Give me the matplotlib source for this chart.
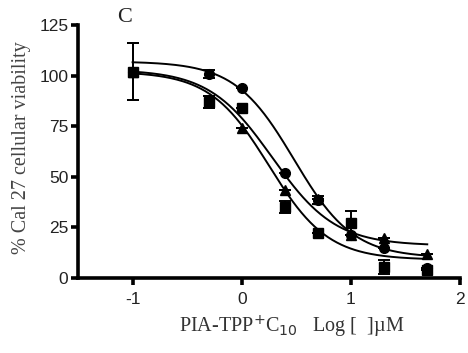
import matplotlib.pyplot as plt
import numpy as np

plt.rcParams['axes.unicode_minus'] = False

log_conc = [-1, -0.3, 0, 0.4, 0.7, 1, 1.3, 1.7]

circle_vals = [102, 101, 94, 52, 38.5, 21, 15, 5]
circle_err = [14, 2, 0, 0, 2, 0, 0, 0]
square_vals = [102, 87, 84, 35, 22, 27, 5.5, 4]
square_err = [14, 3, 0, 3, 0, 6, 3.5, 0]
triangle_vals = [102, 87, 74, 43.5, 39, 21, 20, 12]
triangle_err = [14, 3, 0, 0, 0, 0, 0, 0]

# fitted 4PL curves: top, bottom, logIC50, hill
circle_fit = [107, 10, 0.48, 1.6]
square_fit = [102, 9, 0.25, 1.6]
triangle_fit = [103, 16, 0.28, 1.5]


def sigmoid(x, p):
    top, bottom, ic50, hill = p
    return bottom + (top - bottom) / (1 + 10 ** ((x - ic50) * hill))


fig = plt.figure(figsize=(4.68, 3.53), dpi=100)
ax = fig.add_axes([78 / 468, 75 / 353, 382 / 468, 253 / 353])

xs = np.linspace(-1, 1.7, 200)
for fit in [circle_fit, square_fit, triangle_fit]:
    ax.plot(xs, sigmoid(xs, fit), color='black', lw=1.4, zorder=2)

for vals, err, m in [(circle_vals, circle_err, 'o'),
                     (square_vals, square_err, 's'),
                     (triangle_vals, triangle_err, '^')]:
    ax.errorbar(log_conc, vals, yerr=err, fmt=m, color='black', ms=7,
                capsize=4.5, elinewidth=1.4, capthick=1.4, clip_on=False, zorder=3)

ax.set_xlim(-1.5, 2)
ax.set_ylim(0, 125)
ax.set_xticks([-1, 0, 1, 2])
ax.set_yticks([0, 25, 50, 75, 100, 125])
for s in ['top', 'right']:
    ax.spines[s].set_visible(False)
for s in ['left', 'bottom']:
    ax.spines[s].set_linewidth(2.6)
ax.tick_params(width=2.6, length=5, labelsize=12.5, colors='black',
               labelcolor='#222222', pad=2)
ax.tick_params(axis='x', pad=5)
for lab in ax.get_xticklabels() + ax.get_yticklabels():
    lab.set_family('Liberation Sans')

fig.text(22 / 468, 1 - 148 / 353, '% Cal 27 cellular viability', rotation=90,
         ha='center', va='center', family='Liberation Serif', fontsize=14.5,
         color='#444444')
fig.text(292 / 468, 1 - 327 / 353,
         'PIA-TPP$^{+}$C$_{10}$   Log [  ]\u00b5M',
         ha='center', va='center', family='Liberation Serif', fontsize=14.5,
         color='#333333')
fig.text(125 / 468, 1 - 18 / 353, 'C', ha='center', va='center',
         family='Liberation Serif', fontsize=16, color='#222222')

plt.savefig('out.png', dpi=100)
